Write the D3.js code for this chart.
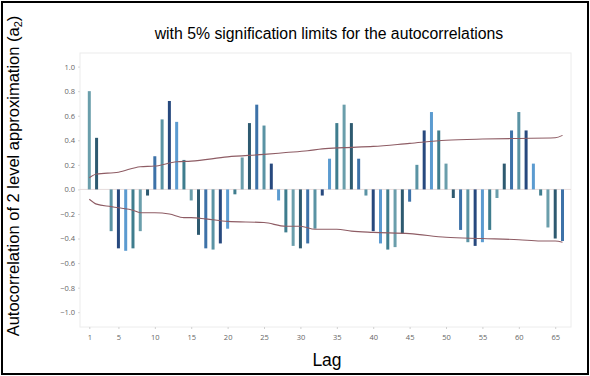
<!DOCTYPE html>
<meta charset="utf-8">
<style>
body { margin: 0; background: #fff; }
.tick text { font-family: "Open Sans", sans-serif; font-size: 7.5px; fill: #666; }
.lim { fill: none; stroke: #8e5c64; stroke-width: 1.1px; }
</style>
<body>
<script src="https://cdn.jsdelivr.net/npm/d3@7/dist/d3.min.js"></script>
<script>

// autocorrelation values, lag 1..66
var lags = d3.range(1, 67);
var acf = [0.80, 0.42, 0.00, -0.34, -0.48, -0.50, -0.48, -0.34, -0.05, 0.27,
  0.57, 0.72, 0.55, 0.24, -0.09, -0.37, -0.48, -0.49, -0.44, -0.32,
  -0.04, 0.26, 0.54, 0.69, 0.52, 0.21, -0.09, -0.35, -0.46, -0.48,
  -0.44, -0.32, -0.05, 0.25, 0.54, 0.69, 0.54, 0.25, -0.05, -0.34,
  -0.44, -0.49, -0.47, -0.36, -0.10, 0.20, 0.48, 0.63, 0.48, 0.21,
  -0.07, -0.33, -0.43, -0.46, -0.43, -0.33, -0.07, 0.21, 0.48, 0.63,
  0.48, 0.21, -0.05, -0.31, -0.40, -0.42];

// 5% limits, read at some lags
var upperLags = [1, 2, 5, 8, 10, 13, 15, 20, 25, 28, 31, 33, 36, 40, 45, 50, 55, 60, 65, 66];
var upperLim = [0.095, 0.125, 0.14, 0.185, 0.19, 0.225, 0.23, 0.265, 0.285, 0.30, 0.315, 0.33, 0.34, 0.35, 0.375, 0.40, 0.41, 0.415, 0.42, 0.44];
var lowerLags = [1, 2, 4, 5, 7, 8, 10, 12, 14, 15, 17, 20, 25, 28, 30, 32, 35, 37, 40, 45, 50, 55, 60, 63, 65, 66];
var lowerLim = [-0.08, -0.12, -0.14, -0.15, -0.17, -0.19, -0.19, -0.20, -0.23, -0.23, -0.24, -0.26, -0.27, -0.30, -0.30, -0.325, -0.325, -0.34, -0.35, -0.36, -0.39, -0.40, -0.41, -0.42, -0.42, -0.43];

var xTicks = [1, 5, 10, 15, 20, 25, 30, 35, 40, 45, 50, 55, 60, 65];
var yTicks = [-1.0, -0.8, -0.6, -0.4, -0.2, 0.0, 0.2, 0.4, 0.6, 0.8, 1.0];

var barColors = ["#6a9eab", "#2e5a70", "#3d72a8", "#5a93a4", "#27497e", "#5b9bd0", "#3f7d8e"];

var W = 590, H = 376;

var x = d3.scaleLinear().domain([1, 66]).range([89.3, 562.5]);
var y = d3.scaleLinear().domain([-1, 1]).range([312.2, 66.6]);

var svg = d3.select("body").append("svg")
    .attr("width", W)
    .attr("height", H);

// outer frame
svg.append("rect")
    .attr("x", 2).attr("y", 2)
    .attr("width", W - 4).attr("height", H - 4)
    .attr("fill", "none")
    .attr("stroke", "#000")
    .attr("stroke-width", 2);

// plot frame
svg.append("rect")
    .attr("x", 80).attr("y", 53)
    .attr("width", 491).attr("height", 274)
    .attr("fill", "none")
    .attr("stroke", "#ececec")
    .attr("stroke-width", 1);

// zero line
svg.append("line")
    .attr("x1", 80).attr("x2", 571)
    .attr("y1", y(0)).attr("y2", y(0))
    .attr("stroke", "#e6dcdc");

// axes
var yAxis = svg.append("g")
    .attr("transform", "translate(80,0)")
    .call(d3.axisLeft(y).tickValues(yTicks).tickSize(2).tickPadding(3).tickFormat(d3.format(".1f")));
yAxis.select(".domain").remove();
yAxis.selectAll(".tick line").attr("stroke", "#d8d8d8");

var xAxis = svg.append("g")
    .attr("transform", "translate(0,327)")
    .call(d3.axisBottom(x).tickValues(xTicks).tickSize(2).tickPadding(6));
xAxis.select(".domain").remove();
xAxis.selectAll(".tick line").attr("stroke", "#d0d0d0");

// bars
svg.append("g").selectAll("rect")
    .data(lags)
    .enter().append("rect")
    .attr("x", function(d) { return x(d) - 1.5; })
    .attr("width", 3)
    .attr("y", function(d, i) { return y(Math.max(0, acf[i])); })
    .attr("height", function(d, i) { return Math.abs(y(acf[i]) - y(0)); })
    .attr("fill", function(d, i) { return barColors[i % barColors.length]; });

// limit lines
var line = d3.line()
    .x(function(d) { return x(d[0]); })
    .y(function(d) { return y(d[1]); })
    .curve(d3.curveMonotoneX);

svg.append("path")
    .attr("class", "lim")
    .attr("d", line(d3.zip(upperLags, upperLim)));
svg.append("path")
    .attr("class", "lim")
    .attr("d", line(d3.zip(lowerLags, lowerLim)));

// titles
svg.append("text")
    .attr("x", 329).attr("y", 39)
    .attr("text-anchor", "middle")
    .style("font-family", "Liberation Sans, Arial, sans-serif")
    .style("font-size", "15.8px")
    .text("with 5% signification limits for the autocorrelations");

svg.append("text")
    .attr("x", 327).attr("y", 366)
    .attr("text-anchor", "middle")
    .style("font-family", "Liberation Sans, Arial, sans-serif")
    .style("font-size", "17.5px")
    .text("Lag");

var yl = svg.append("text")
    .attr("transform", "translate(19,176) rotate(-90)")
    .attr("text-anchor", "middle")
    .style("font-family", "Liberation Sans, Arial, sans-serif")
    .style("font-size", "16.5px");
yl.append("tspan").text("Autocorrelation of 2 level approximation (a");
yl.append("tspan").attr("dy", 3).style("font-size", "11px").text("2");
yl.append("tspan").attr("dy", -3).text(")");

</script>
</body>
